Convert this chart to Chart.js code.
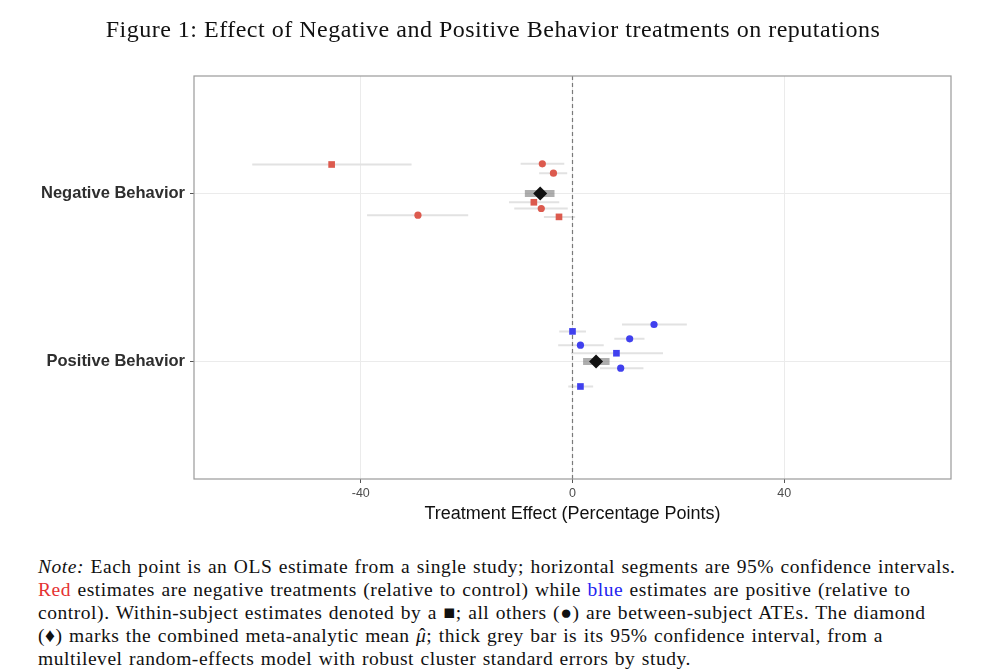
<!DOCTYPE html>
<html>
<head>
<meta charset="utf-8">
<script src="https://cdn.jsdelivr.net/npm/chart.js@4.4.0/dist/chart.umd.min.js"></script>
<style>
  html, body { margin: 0; padding: 0; background: #fff; }
  body { width: 994px; height: 670px; position: relative; overflow: hidden; }
  #wrap { position: absolute; left: 0; top: 0; width: 994px; height: 530px; }
  #title {
    position: absolute; left: 0; width: 986px; top: 16px; text-align: center;
    font-family: "Liberation Serif", serif; font-size: 24px; letter-spacing: 0.5px; color: #111;
  }
  #note {
    position: absolute; left: 38px; top: 555px; width: 950px;
    font-family: "Liberation Serif", serif; font-size: 19.5px; line-height: 23px;
    letter-spacing: 0.55px; word-spacing: 1px; color: #111;
  }
  #note div { white-space: nowrap; }
  .red { color: #e53333; }
  .blue { color: #2424f0; }
  .hat { position: relative; }
  .hat span { position: absolute; left: 3px; top: 0px; line-height: 1; font-style: normal; }
</style>
</head>
<body>
<div id="wrap"><canvas id="forest"></canvas></div>
<div id="title">Figure 1: Effect of Negative and Positive Behavior treatments on reputations</div>
<div id="note">
  <div><i>Note:</i> Each point is an OLS estimate from a single study; horizontal segments are 95% confidence intervals.</div>
  <div><span class="red">Red</span> estimates are negative treatments (relative to control) while <span class="blue">blue</span> estimates are positive (relative to</div>
  <div>control). Within-subject estimates denoted by a &#9632;; all others (&#9679;) are between-subject ATEs. The diamond</div>
  <div>(&#9830;) marks the combined meta-analytic mean <i class="hat">&#956;<span>&#710;</span></i>; thick grey bar is its 95% confidence interval, from a</div>
  <div>multilevel random-effects model with robust cluster standard errors by study.</div>
</div>
<script>
// Categories on the y axis (numeric positions, top = 2)
const CATEGORIES = ['Negative Behavior', 'Positive Behavior'];
const CATEGORY_Y = [2, 1];
const X_TICKS = [-40, 0, 40];

// Negative behavior studies (estimate, 95% CI, dodged y position)
const NEG_EST = [-45.5, -5.7, -3.6, -7.3, -5.9, -29.2, -2.55];
const NEG_LO = [-60.5, -9.8, -6.3, -12.0, -11.0, -38.8, -5.4];
const NEG_HI = [-30.4, -1.55, -1.0, -2.5, -0.9, -19.7, 0.5];
const NEG_Y = [2.173, 2.177, 2.121, 1.948, 1.911, 1.871, 1.861];
const NEG_WITHIN = [true, false, false, true, false, false, true];

// Positive behavior studies
const POS_EST = [15.4, 0.0, 10.8, 1.5, 8.3, 9.1, 1.5];
const POS_LO = [9.35, -2.5, 7.9, -2.7, -0.3, 5.2, -0.8];
const POS_HI = [21.6, 2.55, 13.6, 5.9, 17.1, 13.4, 3.9];
const POS_Y = [1.220, 1.179, 1.135, 1.097, 1.049, 0.960, 0.851];
const POS_WITHIN = [false, true, false, false, true, false, true];

// Meta-analytic means and their 95% CIs
const META_EST = [-6.1, 4.45];
const META_LO = [-9.0, 2.0];
const META_HI = [-3.4, 7.0];

const RED = '#dc5a4e';
const BLUE = '#4040ee';

// Build gap-separated horizontal segments for a line dataset
const segments = (lo, hi, ys) => {
  const pts = [];
  lo.forEach((l, i) => {
    pts.push({ x: l, y: ys[i] }, { x: hi[i], y: ys[i] }, { x: hi[i], y: null });
  });
  return pts;
};

const points = (xs, ys) => xs.map((x, i) => ({ x: x, y: ys[i] }));

const panelBorder = {
  id: 'panelBorder',
  afterDatasetsDraw(chart) {
    const { ctx, chartArea: a } = chart;
    ctx.save();
    ctx.strokeStyle = '#9a9a9a';
    ctx.lineWidth = 1.2;
    ctx.strokeRect(a.left, a.top, a.right - a.left, a.bottom - a.top);
    ctx.restore();
  }
};

const ctx = document.getElementById('forest').getContext('2d');

new Chart(ctx, {
  type: 'scatter',
  data: {
    datasets: [
      {
        type: 'line',
        data: segments(NEG_LO.concat(POS_LO), NEG_HI.concat(POS_HI), NEG_Y.concat(POS_Y)),
        borderColor: '#e2e2e2',
        borderWidth: 2,
        pointRadius: 0,
        spanGaps: false,
        order: 4,
      },
      {
        type: 'line',
        data: [{ x: 0, y: 0.3 }, { x: 0, y: 2.7 }],
        borderColor: '#7a7a7a',
        borderWidth: 1.2,
        borderDash: [4, 3],
        pointRadius: 0,
        order: 3,
      },
      {
        type: 'line',
        data: segments(META_LO, META_HI, CATEGORY_Y),
        borderColor: 'rgba(120,120,120,0.6)',
        borderWidth: 7,
        borderCapStyle: 'butt',
        pointRadius: 0,
        spanGaps: false,
        order: 2,
      },
      {
        data: points(NEG_EST, NEG_Y),
        pointStyle: NEG_WITHIN.map(w => (w ? 'rect' : 'circle')),
        pointRadius: NEG_WITHIN.map(w => (w ? 4.7 : 3.6)),
        backgroundColor: RED,
        borderWidth: 0,
        order: 1,
      },
      {
        data: points(POS_EST, POS_Y),
        pointStyle: POS_WITHIN.map(w => (w ? 'rect' : 'circle')),
        pointRadius: POS_WITHIN.map(w => (w ? 4.7 : 3.6)),
        backgroundColor: BLUE,
        borderWidth: 0,
        order: 1,
      },
      {
        data: points(META_EST, CATEGORY_Y),
        pointStyle: 'rectRot',
        pointRadius: 7,
        backgroundColor: '#111',
        borderWidth: 0,
        order: 0,
      },
    ]
  },
  options: {
    responsive: true,
    maintainAspectRatio: false,
    animation: false,
    layout: { padding: { top: 76, right: 43, left: 0, bottom: 0 } },
    plugins: {
      legend: { display: false },
      tooltip: { enabled: false },
    },
    scales: {
      x: {
        type: 'linear',
        min: -71.5,
        max: 71.5,
        afterBuildTicks: s => { s.ticks = X_TICKS.map(v => ({ value: v })); },
        afterFit: s => { s.height = 51; },
        ticks: {
          color: '#4d4d4d',
          font: { family: 'Liberation Sans', size: 12.5 },
          padding: 3,
        },
        grid: { color: '#ebebeb', lineWidth: 1, drawTicks: true, tickLength: 4, tickColor: '#555' },
        border: { display: false },
        title: {
          display: true,
          text: 'Treatment Effect (Percentage Points)',
          color: '#111',
          font: { family: 'Liberation Sans', size: 18 },
          padding: { top: 0, bottom: 5 },
        },
      },
      y: {
        type: 'linear',
        min: 0.3,
        max: 2.7,
        afterBuildTicks: s => { s.ticks = CATEGORY_Y.map(v => ({ value: v })); },
        afterFit: s => { s.width = 194; },
        ticks: {
          color: '#2e2e2e',
          font: { family: 'Liberation Sans', size: 16.5, weight: 'bold' },
          padding: 5,
          callback: v => CATEGORIES[CATEGORY_Y.indexOf(v)],
        },
        grid: { color: '#ebebeb', lineWidth: 1, drawTicks: true, tickLength: 4, tickColor: '#555' },
        border: { display: false },
      },
    },
  },
  plugins: [panelBorder],
});
</script>
</body>
</html>
